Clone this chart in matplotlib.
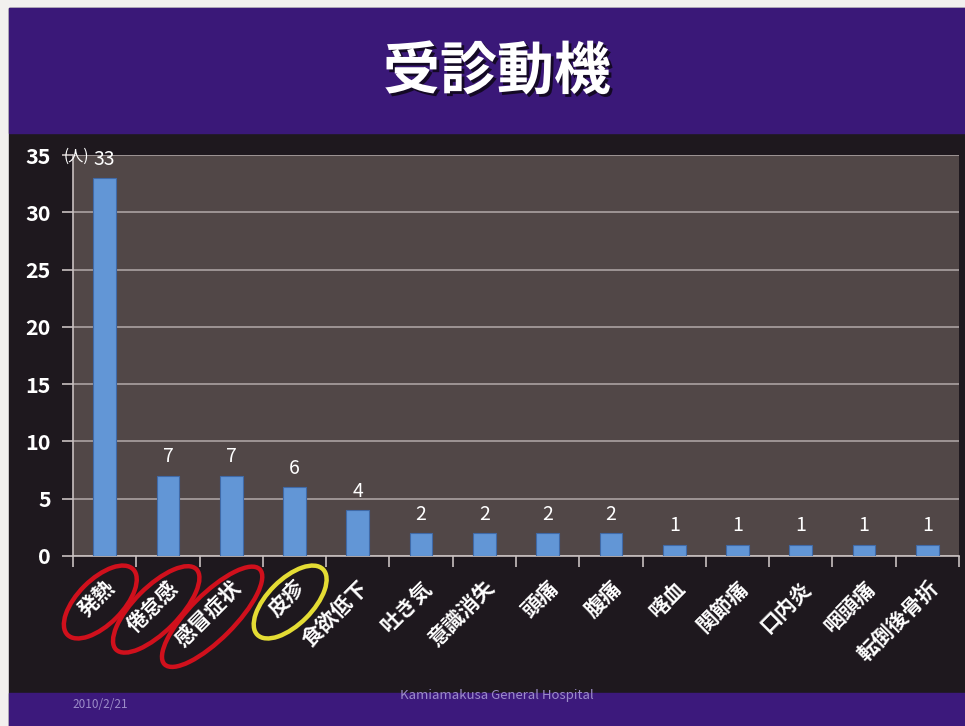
import numpy as np
import matplotlib
matplotlib.use("Agg")
import matplotlib.pyplot as plt
from matplotlib.patches import Rectangle, Ellipse
import matplotlib.patheffects as pe

plt.rcParams['font.family'] = ['Noto Sans CJK JP', 'DejaVu Sans']

# 受診動機の内訳（人数）
reasons = ['発熱', '倦怠感', '感冒症状', '皮疹', '食欲低下', '吐き気', '意識消失',
           '頭痛', '腹痛', '喀血', '関節痛', '口内炎', '咽頭痛', '転倒後骨折']
counts = [33, 7, 7, 6, 4, 2, 2, 2, 2, 1, 1, 1, 1, 1]
# 丸で囲む項目
red_marks = ['発熱', '倦怠感', '感冒症状']
yellow_marks = ['皮疹']

W, H = 965, 726
fig = plt.figure(figsize=(W / 100, H / 100), dpi=100, facecolor='#f2f0ee')

# スライドの背景（余白・ヘッダー・フッター）
bg = fig.add_axes([0, 0, 1, 1])
bg.set_xlim(0, W)
bg.set_ylim(H, 0)
bg.axis('off')
bg.add_patch(Rectangle((9, 8), W - 9, H - 8, color='#1e181e'))
bg.add_patch(Rectangle((9, 8), W - 9, 125, color='#3a1878'))
bg.add_patch(Rectangle((9, 693), W - 9, 33, color='#3c197c'))

bg.text(497, 72, '受診動機', ha='center', va='center', color='white',
        fontsize=41, fontweight='bold',
        path_effects=[pe.withSimplePatchShadow(offset=(2, -2), shadow_rgbFace='#10081c', alpha=0.9)])
bg.text(72, 704, '2010/2/21', ha='left', va='center', color='#9c8cc8', fontsize=8.5)
bg.text(497, 696, 'Kamiamakusa General Hospital', ha='center', va='center',
        color='#9c8cc8', fontsize=9.5)

# グラフ本体
ax = fig.add_axes([73 / W, 1 - 556 / H, (959 - 73) / W, (556 - 155) / H])
ax.set_facecolor('#514747')
x = np.arange(len(reasons))
bars = ax.bar(x, counts, width=0.36, color='#6296d6', edgecolor='#3f6aa8',
              linewidth=0.8, zorder=3)
ax.bar_label(bars, labels=[str(c) for c in counts], padding=6, color='white',
             fontsize=14)

ax.set_xlim(-0.5, len(reasons) - 0.5)
ax.set_ylim(0, 35)
ax.set_yticks(np.arange(0, 36, 5))
ax.yaxis.grid(True, color='#aaa2a2', linewidth=1.2, zorder=0)
ax.set_axisbelow(True)
for s in ['top', 'right']:
    ax.spines[s].set_visible(False)
for s in ['left', 'bottom']:
    ax.spines[s].set_color('#c8c0c0')
    ax.spines[s].set_linewidth(1.2)
ax.tick_params(axis='y', colors='#c8c0c0', length=8, width=1.2, pad=8,
               labelcolor='white', labelsize=15.5)
for t in ax.get_yticklabels():
    t.set_fontweight('bold')

# 区切りの目盛り（カテゴリの境界）と項目名
ax.set_xticks(np.arange(-0.5, len(reasons), 1.0))
ax.set_xticklabels([])
ax.tick_params(axis='x', colors='#c8c0c0', length=8, width=1.2)
ax.set_xticks(x, minor=True)
ax.set_xticklabels(reasons, minor=True, rotation=45, ha='right',
                   rotation_mode='anchor', color='white', fontsize=15,
                   fontweight='bold')
ax.tick_params(axis='x', which='minor', length=0, pad=15)

ax.text(-0.24, 34.9, '(人)', ha='right', va='center', color='white', fontsize=11)

# 注目項目を楕円で囲む
fig.canvas.draw()
renderer = fig.canvas.get_renderer()
for lab in ax.get_xticklabels(minor=True):
    name = lab.get_text()
    if name in red_marks:
        col = '#d0101c'
    elif name in yellow_marks:
        col = '#e4dc34'
    else:
        continue
    bb = lab.get_window_extent(renderer)
    cx, cy = (bb.x0 + bb.x1) / 2, (bb.y0 + bb.y1) / 2
    size = (bb.width + bb.height) / 2
    ell = Ellipse((cx + 3, H - cy + 3), size * np.sqrt(2) + 30, 45, angle=-45,
                  fill=False, edgecolor=col, linewidth=3.2, zorder=5)
    bg.add_patch(ell)

fig.savefig('out.png', dpi=100, facecolor=fig.get_facecolor())
